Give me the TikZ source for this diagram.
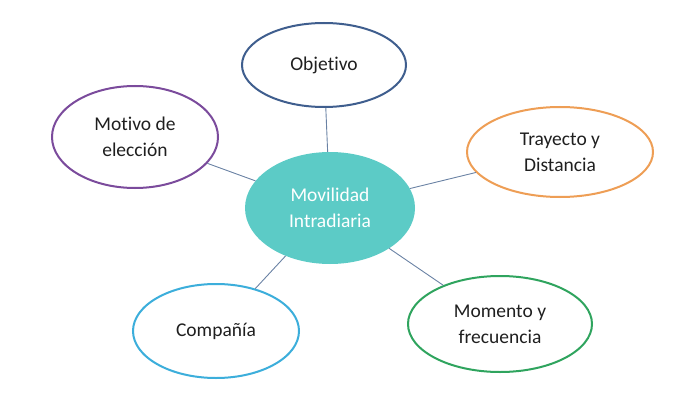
\documentclass[tikz,border=0pt]{standalone}
\usepackage{fontspec}
\setmainfont{Carlito}[Ligatures=NoCommon]
\usetikzlibrary{shapes.geometric}
\definecolor{cObj}{HTML}{3F5E8E}
\definecolor{cMot}{HTML}{7B4B9C}
\definecolor{cTra}{HTML}{EE9E55}
\definecolor{cMom}{HTML}{2FA45E}
\definecolor{cCom}{HTML}{3CAEDB}
\definecolor{cCen}{HTML}{5CCBC6}
\definecolor{cLin}{HTML}{6A82A4}
\tikzset{
  x=1pt, y=1pt,
  leaf/.style={ellipse, draw, line width=2pt, fill=white, inner sep=0pt,
    align=center, font=\fontsize{19.5}{26}\selectfont, text=black!88},
  hub/.style={ellipse, fill=cCen, inner sep=0pt, align=center,
    font=\fontsize{19.5}{26}\selectfont, text=white},
  link/.style={draw=cLin, line width=0.9pt}
}
\begin{document}
\begin{tikzpicture}
\useasboundingbox (0,0) rectangle (690,-409);
\node[hub, minimum width=170, minimum height=112] (c) at (330,-208) {Movilidad\\Intradiaria};
\node[leaf, draw=cObj, minimum width=164, minimum height=84] (obj) at (324,-65) {Objetivo};
\node[leaf, draw=cMot, minimum width=166, minimum height=102] (mot) at (135,-137) {Motivo de\\elección};
\node[leaf, draw=cTra, minimum width=186, minimum height=90] (tra) at (560,-152) {Trayecto y\\Distancia};
\node[leaf, draw=cMom, minimum width=184, minimum height=96] (mom) at (500,-324) {Momento y\\frecuencia};
\node[leaf, draw=cCom, minimum width=166, minimum height=94] (com) at (216,-331) {Compañía};
\draw[link] (c) -- (obj);
\draw[link] (c) -- (mot);
\draw[link] (c) -- (tra);
\draw[link] (c) -- (mom);
\draw[link] (c) -- (com);
\end{tikzpicture}
\end{document}
